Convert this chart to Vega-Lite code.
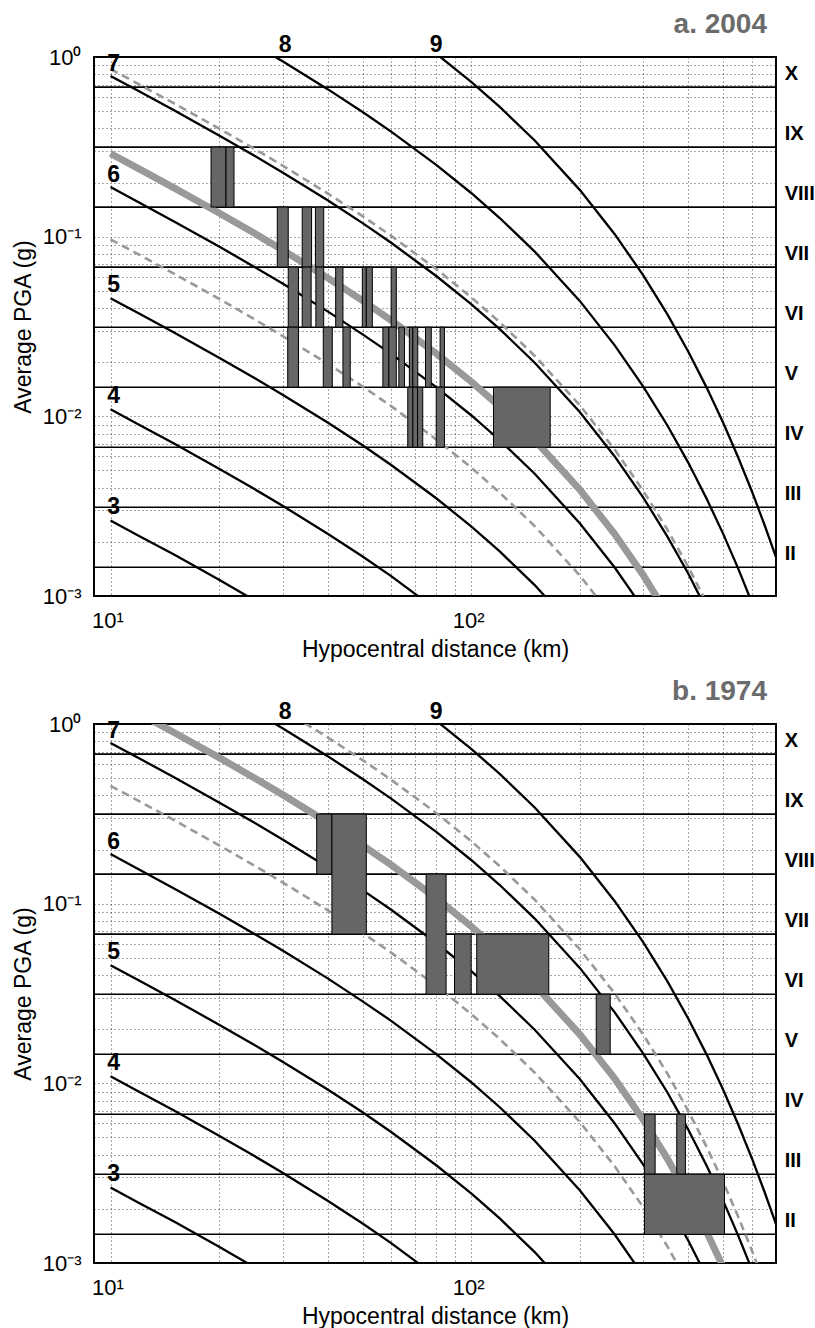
{
  "$schema": "https://vega.github.io/schema/vega-lite/v6.json",
  "padding": {"left": 11, "top": 9, "right": 0, "bottom": 0},
  "background": "white",
  "config": {
    "view": {"stroke": "black", "strokeWidth": 2},
    "font": "Liberation Sans",
    "axis": {
      "grid": true, "gridColor": "#222", "gridDash": [1, 3], "gridWidth": 1, "gridOpacity": 0.8,
      "domain": false, "ticks": false, "tickSize": 0,
      "labelFont": "Liberation Sans", "labelFontSize": 22, "labelColor": "black",
      "titleFont": "Liberation Sans", "titleFontSize": 23, "titleFontWeight": "normal", "titleColor": "black",
      "labelOverlap": false
    }
  },
  "datasets": {
    "thr": [{"g": 0.68}, {"g": 0.3151}, {"g": 0.1461}, {"g": 0.0677}, {"g": 0.03135}, {"g": 0.01453}, {"g": 0.00673}, {"g": 0.00312}, {"g": 0.001445}],
    "roman": [
      {"label": "X", "g": 0.80}, {"label": "IX", "g": 0.372}, {"label": "VIII", "g": 0.1724}, {"label": "VII", "g": 0.0799},
      {"label": "VI", "g": 0.037}, {"label": "V", "g": 0.01715}, {"label": "IV", "g": 0.00794}, {"label": "III", "g": 0.00368}, {"label": "II", "g": 0.00171}
    ],
    "maglab": [
      {"label": "3", "R": 10.2, "g": 0.00312}, {"label": "4", "R": 10.2, "g": 0.0129}, {"label": "5", "R": 10.2, "g": 0.0535},
      {"label": "6", "R": 10.2, "g": 0.22}, {"label": "7", "R": 10.2, "g": 0.92}, {"label": "8", "R": 30.5, "g": 1.17}, {"label": "9", "R": 80, "g": 1.17}
    ],
    "mag": [
      {"m": "M3", "R": 10, "g": 0.00263}, {"m": "M3", "R": 12, "g": 0.00216}, {"m": "M3", "R": 15, "g": 0.0017}, {"m": "M3", "R": 20, "g": 0.00123}, {"m": "M3", "R": 25, "g": 0.00095},
      {"m": "M4", "R": 10, "g": 0.01094}, {"m": "M4", "R": 12, "g": 0.00899}, {"m": "M4", "R": 15, "g": 0.00705}, {"m": "M4", "R": 20, "g": 0.00511}, {"m": "M4", "R": 25, "g": 0.00395}, {"m": "M4", "R": 30, "g": 0.00318}, {"m": "M4", "R": 40, "g": 0.00222}, {"m": "M4", "R": 50, "g": 0.00166}, {"m": "M4", "R": 60, "g": 0.00129}, {"m": "M4", "R": 80, "g": 0.00084},
      {"m": "M5", "R": 10, "g": 0.04545}, {"m": "M5", "R": 12, "g": 0.03735}, {"m": "M5", "R": 15, "g": 0.02927}, {"m": "M5", "R": 20, "g": 0.02121}, {"m": "M5", "R": 25, "g": 0.01639}, {"m": "M5", "R": 30, "g": 0.01319}, {"m": "M5", "R": 40, "g": 0.00924}, {"m": "M5", "R": 50, "g": 0.0069}, {"m": "M5", "R": 60, "g": 0.00536}, {"m": "M5", "R": 80, "g": 0.0035}, {"m": "M5", "R": 100, "g": 0.00244}, {"m": "M5", "R": 120, "g": 0.00177}, {"m": "M5", "R": 150, "g": 0.00115}, {"m": "M5", "R": 200, "g": 0.00061},
      {"m": "M6", "R": 10, "g": 0.1888}, {"m": "M6", "R": 12, "g": 0.1551}, {"m": "M6", "R": 15, "g": 0.1216}, {"m": "M6", "R": 20, "g": 0.0881}, {"m": "M6", "R": 25, "g": 0.0681}, {"m": "M6", "R": 30, "g": 0.0548}, {"m": "M6", "R": 40, "g": 0.0384}, {"m": "M6", "R": 50, "g": 0.0286}, {"m": "M6", "R": 60, "g": 0.02228}, {"m": "M6", "R": 80, "g": 0.01455}, {"m": "M6", "R": 100, "g": 0.01014}, {"m": "M6", "R": 120, "g": 0.00736}, {"m": "M6", "R": 150, "g": 0.00479}, {"m": "M6", "R": 200, "g": 0.00254}, {"m": "M6", "R": 250, "g": 0.00144}, {"m": "M6", "R": 300, "g": 0.00085},
      {"m": "M7", "R": 10, "g": 0.7843}, {"m": "M7", "R": 12, "g": 0.6447}, {"m": "M7", "R": 15, "g": 0.5051}, {"m": "M7", "R": 20, "g": 0.3661}, {"m": "M7", "R": 25, "g": 0.2829}, {"m": "M7", "R": 30, "g": 0.2277}, {"m": "M7", "R": 40, "g": 0.1594}, {"m": "M7", "R": 50, "g": 0.119}, {"m": "M7", "R": 60, "g": 0.0925}, {"m": "M7", "R": 80, "g": 0.0604}, {"m": "M7", "R": 100, "g": 0.0421}, {"m": "M7", "R": 120, "g": 0.0306}, {"m": "M7", "R": 150, "g": 0.01988}, {"m": "M7", "R": 200, "g": 0.01056}, {"m": "M7", "R": 250, "g": 0.00598}, {"m": "M7", "R": 300, "g": 0.00353}, {"m": "M7", "R": 350, "g": 0.00214}, {"m": "M7", "R": 400, "g": 0.00133}, {"m": "M7", "R": 450, "g": 0.000834},
      {"m": "M8", "R": 25, "g": 1.175}, {"m": "M8", "R": 30, "g": 0.946}, {"m": "M8", "R": 40, "g": 0.6622}, {"m": "M8", "R": 50, "g": 0.4943}, {"m": "M8", "R": 60, "g": 0.3845}, {"m": "M8", "R": 80, "g": 0.2511}, {"m": "M8", "R": 100, "g": 0.175}, {"m": "M8", "R": 120, "g": 0.127}, {"m": "M8", "R": 150, "g": 0.0826}, {"m": "M8", "R": 200, "g": 0.0439}, {"m": "M8", "R": 250, "g": 0.02484}, {"m": "M8", "R": 300, "g": 0.01465}, {"m": "M8", "R": 350, "g": 0.00889}, {"m": "M8", "R": 400, "g": 0.00551}, {"m": "M8", "R": 450, "g": 0.003466}, {"m": "M8", "R": 500, "g": 0.00221}, {"m": "M8", "R": 550, "g": 0.00142}, {"m": "M8", "R": 600, "g": 0.00092},
      {"m": "M9", "R": 80, "g": 1.043}, {"m": "M9", "R": 100, "g": 0.7271}, {"m": "M9", "R": 120, "g": 0.5278}, {"m": "M9", "R": 150, "g": 0.343}, {"m": "M9", "R": 200, "g": 0.1822}, {"m": "M9", "R": 250, "g": 0.1032}, {"m": "M9", "R": 300, "g": 0.0609}, {"m": "M9", "R": 350, "g": 0.03693}, {"m": "M9", "R": 400, "g": 0.02288}, {"m": "M9", "R": 450, "g": 0.0144}, {"m": "M9", "R": 500, "g": 0.00918}, {"m": "M9", "R": 550, "g": 0.0059}, {"m": "M9", "R": 600, "g": 0.00383}, {"m": "M9", "R": 650, "g": 0.0025}, {"m": "M9", "R": 700, "g": 0.001646}
    ],
    "fitA": [
      {"c": "center", "R": 10, "g": 0.2904}, {"c": "center", "R": 12, "g": 0.2386}, {"c": "center", "R": 15, "g": 0.187}, {"c": "center", "R": 20, "g": 0.1355}, {"c": "center", "R": 25, "g": 0.1047}, {"c": "center", "R": 30, "g": 0.0843}, {"c": "center", "R": 40, "g": 0.059}, {"c": "center", "R": 50, "g": 0.04406}, {"c": "center", "R": 60, "g": 0.03425}, {"c": "center", "R": 80, "g": 0.02238}, {"c": "center", "R": 100, "g": 0.0156}, {"c": "center", "R": 120, "g": 0.01132}, {"c": "center", "R": 150, "g": 0.00736}, {"c": "center", "R": 200, "g": 0.00391}, {"c": "center", "R": 250, "g": 0.00221}, {"c": "center", "R": 300, "g": 0.001306}, {"c": "center", "R": 350, "g": 0.00079},
      {"c": "upper", "R": 10, "g": 0.857}, {"c": "upper", "R": 12, "g": 0.7045}, {"c": "upper", "R": 15, "g": 0.5519}, {"c": "upper", "R": 20, "g": 0.3999}, {"c": "upper", "R": 25, "g": 0.3091}, {"c": "upper", "R": 30, "g": 0.2488}, {"c": "upper", "R": 40, "g": 0.1741}, {"c": "upper", "R": 50, "g": 0.13}, {"c": "upper", "R": 60, "g": 0.1011}, {"c": "upper", "R": 80, "g": 0.0661}, {"c": "upper", "R": 100, "g": 0.046}, {"c": "upper", "R": 120, "g": 0.0334}, {"c": "upper", "R": 150, "g": 0.02172}, {"c": "upper", "R": 200, "g": 0.01153}, {"c": "upper", "R": 250, "g": 0.00653}, {"c": "upper", "R": 300, "g": 0.00385}, {"c": "upper", "R": 350, "g": 0.002338}, {"c": "upper", "R": 400, "g": 0.00145}, {"c": "upper", "R": 450, "g": 0.000911},
      {"c": "lower", "R": 10, "g": 0.0966}, {"c": "lower", "R": 12, "g": 0.0794}, {"c": "lower", "R": 15, "g": 0.0622}, {"c": "lower", "R": 20, "g": 0.0451}, {"c": "lower", "R": 25, "g": 0.0348}, {"c": "lower", "R": 30, "g": 0.028}, {"c": "lower", "R": 40, "g": 0.01963}, {"c": "lower", "R": 50, "g": 0.01466}, {"c": "lower", "R": 60, "g": 0.0114}, {"c": "lower", "R": 80, "g": 0.00744}, {"c": "lower", "R": 100, "g": 0.00519}, {"c": "lower", "R": 120, "g": 0.00376}, {"c": "lower", "R": 150, "g": 0.00245}, {"c": "lower", "R": 200, "g": 0.0013}, {"c": "lower", "R": 250, "g": 0.000737}
    ],
    "fitB": [
      {"c": "center", "R": 12, "g": 1.145}, {"c": "center", "R": 15, "g": 0.8972}, {"c": "center", "R": 20, "g": 0.6501}, {"c": "center", "R": 25, "g": 0.5025}, {"c": "center", "R": 30, "g": 0.4045}, {"c": "center", "R": 40, "g": 0.283}, {"c": "center", "R": 50, "g": 0.2113}, {"c": "center", "R": 60, "g": 0.1643}, {"c": "center", "R": 80, "g": 0.1074}, {"c": "center", "R": 100, "g": 0.0748}, {"c": "center", "R": 120, "g": 0.0543}, {"c": "center", "R": 150, "g": 0.0353}, {"c": "center", "R": 200, "g": 0.01875}, {"c": "center", "R": 250, "g": 0.01062}, {"c": "center", "R": 300, "g": 0.00626}, {"c": "center", "R": 350, "g": 0.0038}, {"c": "center", "R": 400, "g": 0.00235}, {"c": "center", "R": 450, "g": 0.001482}, {"c": "center", "R": 500, "g": 0.000944},
      {"c": "upper", "R": 30, "g": 1.205}, {"c": "upper", "R": 40, "g": 0.843}, {"c": "upper", "R": 50, "g": 0.6295}, {"c": "upper", "R": 60, "g": 0.4895}, {"c": "upper", "R": 80, "g": 0.3197}, {"c": "upper", "R": 100, "g": 0.2228}, {"c": "upper", "R": 120, "g": 0.1617}, {"c": "upper", "R": 150, "g": 0.1052}, {"c": "upper", "R": 200, "g": 0.0558}, {"c": "upper", "R": 250, "g": 0.03163}, {"c": "upper", "R": 300, "g": 0.01866}, {"c": "upper", "R": 350, "g": 0.01132}, {"c": "upper", "R": 400, "g": 0.00701}, {"c": "upper", "R": 450, "g": 0.00441}, {"c": "upper", "R": 500, "g": 0.00281}, {"c": "upper", "R": 550, "g": 0.00181}, {"c": "upper", "R": 600, "g": 0.001174}, {"c": "upper", "R": 650, "g": 0.00077},
      {"c": "lower", "R": 10, "g": 0.4529}, {"c": "lower", "R": 12, "g": 0.3722}, {"c": "lower", "R": 15, "g": 0.2917}, {"c": "lower", "R": 20, "g": 0.2113}, {"c": "lower", "R": 25, "g": 0.1633}, {"c": "lower", "R": 30, "g": 0.1315}, {"c": "lower", "R": 40, "g": 0.092}, {"c": "lower", "R": 50, "g": 0.0687}, {"c": "lower", "R": 60, "g": 0.0534}, {"c": "lower", "R": 80, "g": 0.0349}, {"c": "lower", "R": 100, "g": 0.02432}, {"c": "lower", "R": 120, "g": 0.01765}, {"c": "lower", "R": 150, "g": 0.01148}, {"c": "lower", "R": 200, "g": 0.0061}, {"c": "lower", "R": 250, "g": 0.00345}, {"c": "lower", "R": 300, "g": 0.00204}, {"c": "lower", "R": 350, "g": 0.001236}, {"c": "lower", "R": 400, "g": 0.000765}
    ],
    "rectA": [
      {"R": 19.0, "R2": 20.9, "g": 0.1461, "g2": 0.3151}, {"R": 20.9, "R2": 22.0, "g": 0.1461, "g2": 0.3151},
      {"R": 29.0, "R2": 31.1, "g": 0.0677, "g2": 0.1461}, {"R": 34.0, "R2": 36.1, "g": 0.0677, "g2": 0.1461}, {"R": 37.0, "R2": 39.0, "g": 0.0677, "g2": 0.1461},
      {"R": 31.1, "R2": 33.2, "g": 0.03135, "g2": 0.0677}, {"R": 34.0, "R2": 36.0, "g": 0.03135, "g2": 0.0677}, {"R": 37.1, "R2": 39.0, "g": 0.03135, "g2": 0.0677}, {"R": 42.1, "R2": 44.1, "g": 0.03135, "g2": 0.0677}, {"R": 49.9, "R2": 51.2, "g": 0.03135, "g2": 0.0677}, {"R": 51.2, "R2": 53.2, "g": 0.03135, "g2": 0.0677}, {"R": 60.0, "R2": 62.0, "g": 0.03135, "g2": 0.0677},
      {"R": 31.0, "R2": 33.2, "g": 0.01453, "g2": 0.03135}, {"R": 38.9, "R2": 41.2, "g": 0.01453, "g2": 0.03135}, {"R": 44.1, "R2": 46.2, "g": 0.01453, "g2": 0.03135}, {"R": 56.9, "R2": 59.1, "g": 0.01453, "g2": 0.03135}, {"R": 59.1, "R2": 62.0, "g": 0.01453, "g2": 0.03135}, {"R": 63.0, "R2": 65.3, "g": 0.01453, "g2": 0.03135}, {"R": 67.4, "R2": 68.9, "g": 0.01453, "g2": 0.03135}, {"R": 68.9, "R2": 71.1, "g": 0.01453, "g2": 0.03135}, {"R": 74.7, "R2": 77.5, "g": 0.01453, "g2": 0.03135}, {"R": 82.0, "R2": 84.3, "g": 0.01453, "g2": 0.03135},
      {"R": 66.7, "R2": 68.9, "g": 0.00673, "g2": 0.01453}, {"R": 68.9, "R2": 71.0, "g": 0.00673, "g2": 0.01453}, {"R": 71.0, "R2": 73.4, "g": 0.00673, "g2": 0.01453}, {"R": 80.0, "R2": 84.3, "g": 0.00673, "g2": 0.01453}, {"R": 115.3, "R2": 165.6, "g": 0.00673, "g2": 0.01453}
    ],
    "rectB": [
      {"R": 37.3, "R2": 41.1, "g": 0.1461, "g2": 0.3151}, {"R": 41.1, "R2": 51.2, "g": 0.0677, "g2": 0.3151},
      {"R": 75.0, "R2": 85.2, "g": 0.03135, "g2": 0.1461}, {"R": 89.9, "R2": 100.0, "g": 0.03135, "g2": 0.0677}, {"R": 103.6, "R2": 164.1, "g": 0.03135, "g2": 0.0677},
      {"R": 222.2, "R2": 242.9, "g": 0.01453, "g2": 0.03135},
      {"R": 302.3, "R2": 323.6, "g": 0.00312, "g2": 0.00673}, {"R": 371.5, "R2": 392.6, "g": 0.00312, "g2": 0.00673},
      {"R": 302.3, "R2": 503.8, "g": 0.001445, "g2": 0.00312}
    ]
  },
  "vconcat": [
    {
      "width": 682, "height": 539,
      "title": {"text": "a. 2004", "anchor": "end", "frame": "group", "fontSize": 28, "fontWeight": "bold", "color": "#6b6b6b", "font": "Liberation Sans", "baseline": "alphabetic", "offset": 24, "dx": -9, "dy": 51},
      "layer": [
        {"data": {"name": "thr"}, "mark": {"type": "rule", "color": "black", "strokeWidth": 1.6},
          "encoding": {"y": {"field": "g", "type": "quantitative", "title": "Average PGA (g)", "scale": {"type": "log", "domain": [0.001, 1], "nice": false}}}},
        {"data": {"name": "fitA"}, "transform": [{"filter": "datum.c == 'center'"}], "mark": {"type": "line", "clip": true, "color": "#999999", "strokeWidth": 7, "strokeCap": "butt"},
          "encoding": {
            "x": {"field": "R", "type": "quantitative", "title": "Hypocentral distance (km)", "scale": {"type": "log", "domain": [9, 700], "nice": false},
              "axis": {"values": [10, 20, 30, 40, 50, 60, 70, 80, 90, 100, 200, 300, 400, 500, 600, 700], "labelExpr": "datum.value == 10 ? '10¹' : datum.value == 100 ? '10²' : ''", "labelFlush": false, "labelPadding": 14, "labelOffset": -3, "titleY": 53, "titleBaseline": "middle"}},
            "y": {"field": "g", "type": "quantitative", "title": "Average PGA (g)", "scale": {"type": "log", "domain": [0.001, 1], "nice": false},
              "axis": {"values": [0.001, 0.002, 0.003, 0.004, 0.005, 0.006, 0.007, 0.008, 0.009, 0.01, 0.02, 0.03, 0.04, 0.05, 0.06, 0.07, 0.08, 0.09, 0.1, 0.2, 0.3, 0.4, 0.5, 0.6, 0.7, 0.8, 0.9, 1], "labelExpr": "datum.value == 1 ? '10⁰' : datum.value == 0.1 ? '10⁻¹' : datum.value == 0.01 ? '10⁻²' : datum.value == 0.001 ? '10⁻³' : ''", "labelPadding": 13, "titleX": -71, "titleY": 269.5, "titleBaseline": "middle", "titleAlign": "center"}},
            "detail": {"field": "c"}}},
        {"data": {"name": "fitA"}, "transform": [{"filter": "datum.c != 'center'"}], "mark": {"type": "line", "clip": true, "color": "#999999", "strokeWidth": 2.6, "strokeDash": [8, 5]},
          "encoding": {"x": {"field": "R", "type": "quantitative", "title": "Hypocentral distance (km)"}, "y": {"field": "g", "type": "quantitative", "title": "Average PGA (g)"}, "detail": {"field": "c"}}},
        {"data": {"name": "mag"}, "mark": {"type": "line", "clip": true, "color": "black", "strokeWidth": 2.3},
          "encoding": {"x": {"field": "R", "type": "quantitative", "title": "Hypocentral distance (km)"}, "y": {"field": "g", "type": "quantitative", "title": "Average PGA (g)"}, "detail": {"field": "m"}}},
        {"data": {"name": "rectA"}, "mark": {"type": "rect", "fill": "#666666", "stroke": "black", "strokeWidth": 1},
          "encoding": {"x": {"field": "R", "type": "quantitative", "title": "Hypocentral distance (km)"}, "x2": {"field": "R2"}, "y": {"field": "g", "type": "quantitative", "title": "Average PGA (g)"}, "y2": {"field": "g2"}}},
        {"data": {"name": "maglab"}, "mark": {"type": "text", "fontSize": 23, "fontWeight": "bold", "color": "black", "align": "center", "baseline": "middle", "font": "Liberation Sans"},
          "encoding": {"x": {"field": "R", "type": "quantitative", "title": "Hypocentral distance (km)"}, "y": {"field": "g", "type": "quantitative", "title": "Average PGA (g)"}, "text": {"field": "label"}}},
        {"data": {"name": "roman"}, "mark": {"type": "text", "fontSize": 20, "fontWeight": "bold", "color": "black", "align": "left", "baseline": "middle", "font": "Liberation Sans"},
          "encoding": {"x": {"datum": 740, "type": "quantitative", "title": "Hypocentral distance (km)"}, "y": {"field": "g", "type": "quantitative", "title": "Average PGA (g)"}, "text": {"field": "label"}}}
      ]
    },
    {
      "width": 682, "height": 539,
      "title": {"text": "b. 1974", "anchor": "end", "frame": "group", "fontSize": 28, "fontWeight": "bold", "color": "#6b6b6b", "font": "Liberation Sans", "baseline": "alphabetic", "offset": 24, "dx": -9, "dy": 51},
      "layer": [
        {"data": {"name": "thr"}, "mark": {"type": "rule", "color": "black", "strokeWidth": 1.6},
          "encoding": {"y": {"field": "g", "type": "quantitative", "title": "Average PGA (g)", "scale": {"type": "log", "domain": [0.001, 1], "nice": false}}}},
        {"data": {"name": "fitB"}, "transform": [{"filter": "datum.c == 'center'"}], "mark": {"type": "line", "clip": true, "color": "#999999", "strokeWidth": 7, "strokeCap": "butt"},
          "encoding": {
            "x": {"field": "R", "type": "quantitative", "title": "Hypocentral distance (km)", "scale": {"type": "log", "domain": [9, 700], "nice": false},
              "axis": {"values": [10, 20, 30, 40, 50, 60, 70, 80, 90, 100, 200, 300, 400, 500, 600, 700], "labelExpr": "datum.value == 10 ? '10¹' : datum.value == 100 ? '10²' : ''", "labelFlush": false, "labelPadding": 14, "labelOffset": -3, "titleY": 53, "titleBaseline": "middle"}},
            "y": {"field": "g", "type": "quantitative", "title": "Average PGA (g)", "scale": {"type": "log", "domain": [0.001, 1], "nice": false},
              "axis": {"values": [0.001, 0.002, 0.003, 0.004, 0.005, 0.006, 0.007, 0.008, 0.009, 0.01, 0.02, 0.03, 0.04, 0.05, 0.06, 0.07, 0.08, 0.09, 0.1, 0.2, 0.3, 0.4, 0.5, 0.6, 0.7, 0.8, 0.9, 1], "labelExpr": "datum.value == 1 ? '10⁰' : datum.value == 0.1 ? '10⁻¹' : datum.value == 0.01 ? '10⁻²' : datum.value == 0.001 ? '10⁻³' : ''", "labelPadding": 13, "titleX": -71, "titleY": 269.5, "titleBaseline": "middle", "titleAlign": "center"}},
            "detail": {"field": "c"}}},
        {"data": {"name": "fitB"}, "transform": [{"filter": "datum.c != 'center'"}], "mark": {"type": "line", "clip": true, "color": "#999999", "strokeWidth": 2.6, "strokeDash": [8, 5]},
          "encoding": {"x": {"field": "R", "type": "quantitative", "title": "Hypocentral distance (km)"}, "y": {"field": "g", "type": "quantitative", "title": "Average PGA (g)"}, "detail": {"field": "c"}}},
        {"data": {"name": "mag"}, "mark": {"type": "line", "clip": true, "color": "black", "strokeWidth": 2.3},
          "encoding": {"x": {"field": "R", "type": "quantitative", "title": "Hypocentral distance (km)"}, "y": {"field": "g", "type": "quantitative", "title": "Average PGA (g)"}, "detail": {"field": "m"}}},
        {"data": {"name": "rectB"}, "mark": {"type": "rect", "fill": "#666666", "stroke": "black", "strokeWidth": 1},
          "encoding": {"x": {"field": "R", "type": "quantitative", "title": "Hypocentral distance (km)"}, "x2": {"field": "R2"}, "y": {"field": "g", "type": "quantitative", "title": "Average PGA (g)"}, "y2": {"field": "g2"}}},
        {"data": {"name": "maglab"}, "mark": {"type": "text", "fontSize": 23, "fontWeight": "bold", "color": "black", "align": "center", "baseline": "middle", "font": "Liberation Sans"},
          "encoding": {"x": {"field": "R", "type": "quantitative", "title": "Hypocentral distance (km)"}, "y": {"field": "g", "type": "quantitative", "title": "Average PGA (g)"}, "text": {"field": "label"}}},
        {"data": {"name": "roman"}, "mark": {"type": "text", "fontSize": 20, "fontWeight": "bold", "color": "black", "align": "left", "baseline": "middle", "font": "Liberation Sans"},
          "encoding": {"x": {"datum": 740, "type": "quantitative", "title": "Hypocentral distance (km)"}, "y": {"field": "g", "type": "quantitative", "title": "Average PGA (g)"}, "text": {"field": "label"}}}
      ]
    }
  ],
  "spacing": 128,
  "bounds": "flush"
}
